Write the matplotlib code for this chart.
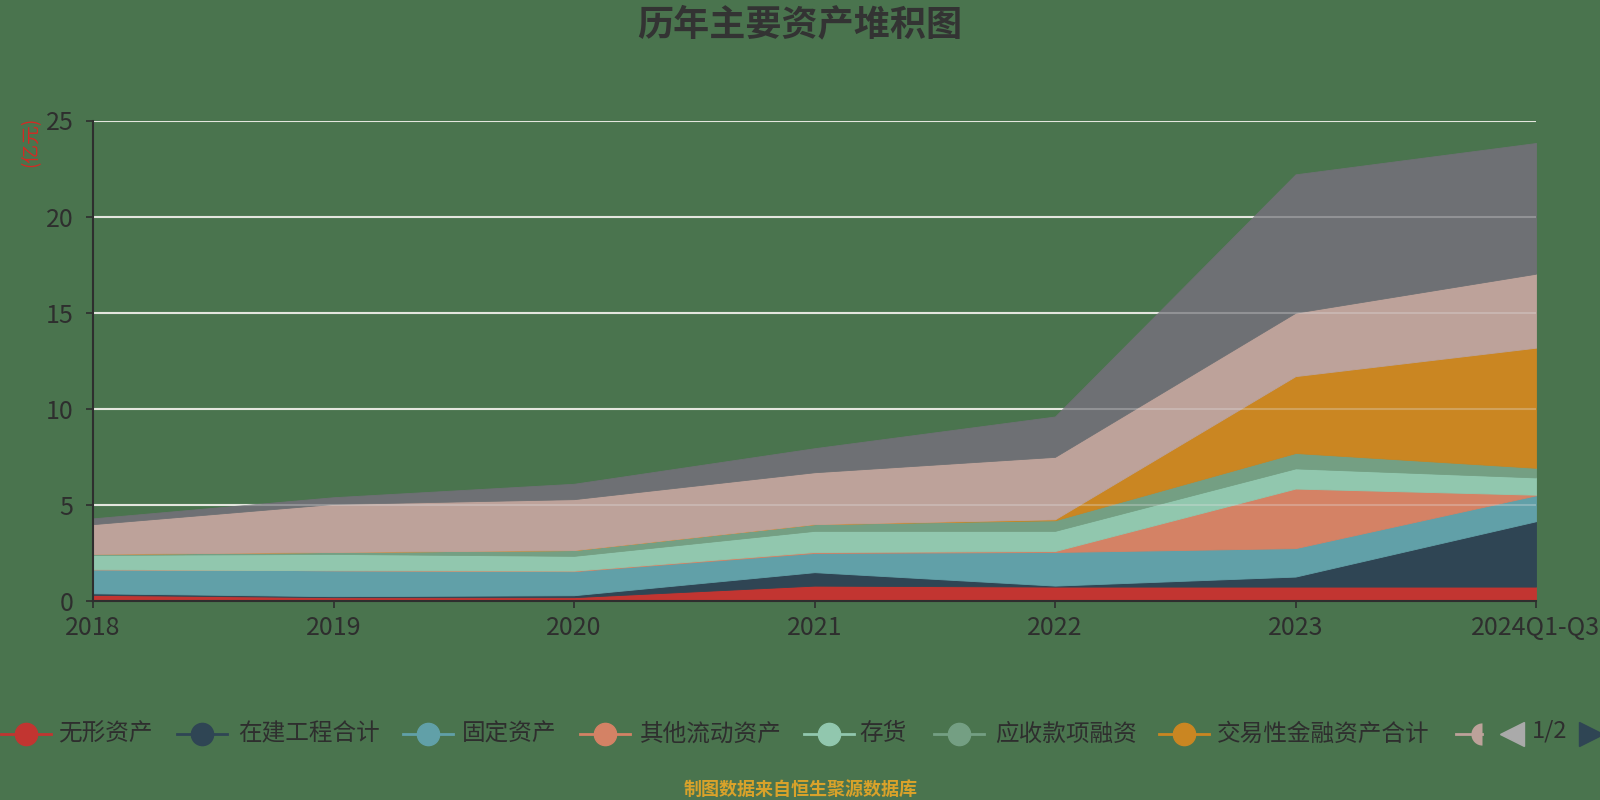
import numpy as np
import matplotlib
matplotlib.use("Agg")
import matplotlib.pyplot as plt
from matplotlib.lines import Line2D

plt.rcParams['font.family'] = ['Noto Sans CJK SC', 'DejaVu Sans']

categories = ["2018", "2019", "2020", "2021", "2022", "2023", "2024Q1-Q3"]
series_names = ["无形资产", "在建工程合计", "固定资产", "其他流动资产", "存货",
                "应收款项融资", "交易性金融资产合计", "应收账款", "货币资金"]
wuxing = [0.32, 0.20, 0.20, 0.80, 0.75, 0.75, 0.75]
zaijian = [0.08, 0.05, 0.10, 0.70, 0.05, 0.52, 3.40]
guding = [1.25, 1.35, 1.25, 1.00, 1.75, 1.48, 1.35]
qita_liudong = [0.00, 0.00, 0.03, 0.05, 0.05, 3.10, 0.03]
cunhuo = [0.75, 0.85, 0.77, 1.10, 1.05, 1.05, 0.90]
yingshou_rongzi = [0.05, 0.10, 0.30, 0.35, 0.55, 0.80, 0.50]
jiaoyixing = [0.00, 0.00, 0.00, 0.00, 0.05, 4.00, 6.25]
yingshou_zhangkuan = [1.55, 2.50, 2.65, 2.70, 3.25, 3.30, 3.85]
huobi = [0.30, 0.35, 0.80, 1.25, 2.10, 7.20, 6.80]
yticks = [0, 5, 10, 15, 20, 25]

colors = ['#c23531', '#2f4554', '#61a0a8', '#d48265', '#91c7ae',
          '#749f83', '#ca8622', '#bda29a', '#6e7074']
bg = '#4a744e'
txt = '#2e2e2e'

W, H = 1600, 800
fig = plt.figure(figsize=(16, 8), dpi=100, facecolor=bg)
ax = fig.add_axes([93 / W, 1 - 601 / H, (1536 - 93) / W, (601 - 120.5) / H])
ax.set_facecolor(bg)

x = np.arange(len(categories))
data = [wuxing, zaijian, guding, qita_liudong, cunhuo, yingshou_rongzi,
        jiaoyixing, yingshou_zhangkuan, huobi]
polys = ax.stackplot(x, *data, colors=colors, labels=series_names, zorder=2)
for p, c in zip(polys, colors):
    p.set_edgecolor(c)
    p.set_linewidth(0.6)

ax.set_xlim(0, len(categories) - 1)
ax.set_ylim(0, 25)
ax.set_yticks(yticks)
ax.set_xticks(x)
ax.set_xticklabels(categories)

# grid: full under, faint over
for yv in yticks[1:]:
    ax.axhline(yv, color='#e4e8dc', lw=1.5, zorder=1)
    ax.axhline(yv, color='#e4e4e4', lw=1.5, alpha=0.3, zorder=3)

for s in ['top', 'right']:
    ax.spines[s].set_visible(False)
for s in ['left', 'bottom']:
    ax.spines[s].set_color(txt)
    ax.spines[s].set_linewidth(1.5)
    ax.spines[s].set_zorder(4)
ax.tick_params(axis='both', colors=txt, labelcolor=txt, labelsize=18,
               length=5, width=1.2)
ax.tick_params(axis='y', pad=9)
ax.tick_params(axis='x', pad=5)

fig.text(31 / W, 1 - 142 / H, "(亿元)", color='#d42a24', fontsize=13.5,
         rotation=90, ha='center', va='center')

fig.text(0.5, 1 - 25 / H, "历年主要资产堆积图", color='#333333', fontsize=26,
         fontweight='bold', ha='center', va='center')

# legend (page 1/2)
ly = 1 - 734 / H
items = [(25.5, 58), (202, 238), (427.5, 462), (605, 640), (828.5, 859),
         (959, 995), (1184, 1217)]
for i, (cx, tx) in enumerate(items):
    fig.add_artist(Line2D([(cx - 25) / W, (cx + 25) / W], [ly, ly],
                          color=colors[i], lw=2, transform=fig.transFigure))
    fig.add_artist(Line2D([cx / W], [ly], marker='o', markersize=16,
                          markerfacecolor=colors[i], markeredgecolor=colors[i],
                          transform=fig.transFigure))
    fig.text(tx / W, ly, series_names[i], color=txt, fontsize=17,
             ha='left', va='center')
# partial 8th entry
cx8 = 1482
fig.add_artist(Line2D([(cx8 - 26) / W, cx8 / W], [ly, ly], color=colors[7], lw=2,
                      transform=fig.transFigure))
fig.add_artist(Line2D([cx8 / W], [ly], marker='o', markersize=16, fillstyle='left',
                      markerfacecolor=colors[7], markerfacecoloralt='none',
                      markeredgewidth=0, transform=fig.transFigure))
# pager
fig.add_artist(Line2D([1512 / W], [ly], marker='<', markersize=17,
                      markerfacecolor='#aaaaaa', markeredgecolor='#aaaaaa',
                      transform=fig.transFigure))
fig.text(1550 / W, ly + 0.004, "1/2", color=txt, fontsize=17,
         ha='center', va='center')
fig.add_artist(Line2D([1591 / W], [ly], marker='>', markersize=17,
                      markerfacecolor='#2f4554', markeredgecolor='#2f4554',
                      transform=fig.transFigure))

fig.text(801 / W, 1 - 789 / H, "制图数据来自恒生聚源数据库", color='#d9a22a',
         fontsize=13, fontweight='bold', ha='center', va='center')

fig.savefig("out.png", dpi=100, facecolor=bg)
